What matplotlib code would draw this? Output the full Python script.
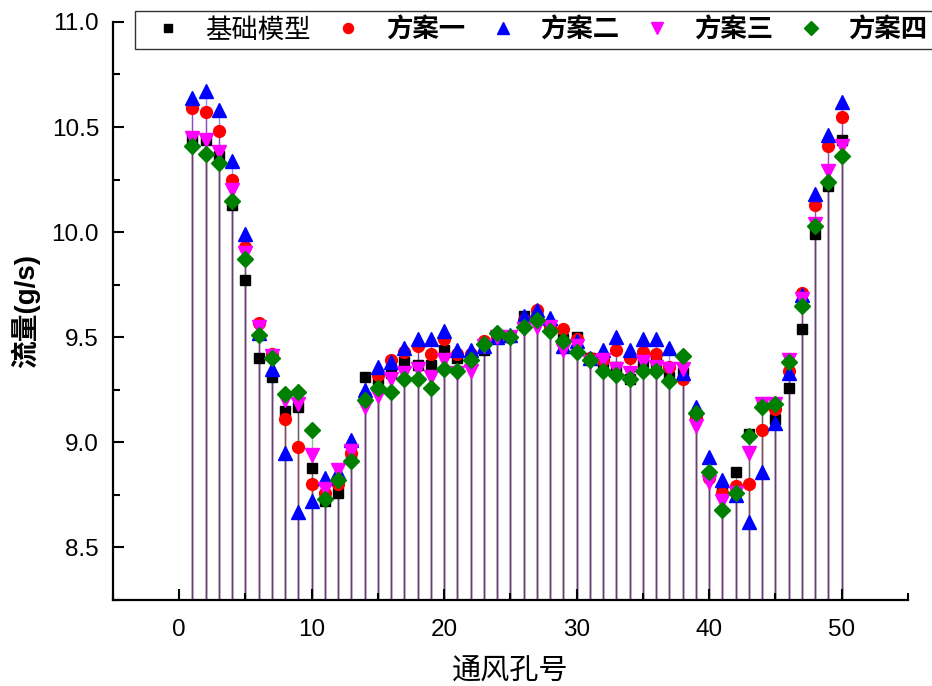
import matplotlib
matplotlib.use("Agg")
import matplotlib.pyplot as plt
import numpy as np
from matplotlib.ticker import MultipleLocator

plt.rcParams['font.family'] = ['Liberation Sans', 'Noto Sans CJK SC']

# vent number 1..50
vent = np.arange(1, 51)

base = [10.45, 10.44, 10.36, 10.13, 9.77, 9.40, 9.31, 9.15, 9.17, 8.88,
        8.72, 8.76, 8.93, 9.31, 9.30, 9.33, 9.38, 9.37, 9.37, 9.44,
        9.40, 9.40, 9.44, 9.50, 9.50, 9.60, 9.60, 9.56, 9.49, 9.50,
        9.40, 9.38, 9.36, 9.30, 9.38, 9.38, 9.31, 9.33, 9.13, 8.85,
        8.76, 8.86, 9.04, 9.18, 9.11, 9.26, 9.54, 9.99, 10.22, 10.44]
plan1 = [10.59, 10.57, 10.48, 10.25, 9.93, 9.57, 9.42, 9.11, 8.98, 8.80,
         8.76, 8.80, 8.95, 9.22, 9.32, 9.39, 9.43, 9.46, 9.42, 9.49,
         9.42, 9.42, 9.48, 9.50, 9.50, 9.58, 9.63, 9.55, 9.54, 9.49,
         9.40, 9.39, 9.44, 9.40, 9.43, 9.42, 9.36, 9.30, 9.12, 8.83,
         8.76, 8.79, 8.80, 9.06, 9.16, 9.34, 9.71, 10.13, 10.41, 10.55]
plan2 = [10.64, 10.67, 10.58, 10.34, 9.99, 9.52, 9.35, 8.95, 8.67, 8.72,
         8.83, 8.86, 9.01, 9.25, 9.36, 9.38, 9.45, 9.49, 9.49, 9.53,
         9.44, 9.44, 9.46, 9.50, 9.51, 9.60, 9.63, 9.59, 9.46, 9.48,
         9.40, 9.44, 9.50, 9.44, 9.49, 9.49, 9.45, 9.33, 9.17, 8.93,
         8.82, 8.75, 8.62, 8.86, 9.09, 9.33, 9.70, 10.18, 10.46, 10.62]
plan3 = [10.45, 10.44, 10.38, 10.20, 9.90, 9.55, 9.41, 9.20, 9.18, 8.94,
         8.78, 8.87, 8.96, 9.17, 9.22, 9.30, 9.33, 9.35, 9.31, 9.39,
         9.33, 9.34, 9.46, 9.50, 9.50, 9.54, 9.55, 9.55, 9.44, 9.46,
         9.38, 9.39, 9.35, 9.33, 9.38, 9.36, 9.35, 9.35, 9.08, 8.81,
         8.72, 8.76, 8.95, 9.18, 9.18, 9.39, 9.68, 10.04, 10.29, 10.41]
plan4 = [10.41, 10.37, 10.33, 10.15, 9.87, 9.51, 9.40, 9.23, 9.24, 9.06,
         8.73, 8.82, 8.91, 9.20, 9.26, 9.24, 9.30, 9.30, 9.26, 9.35,
         9.34, 9.39, 9.47, 9.52, 9.50, 9.55, 9.58, 9.53, 9.48, 9.43,
         9.39, 9.34, 9.32, 9.30, 9.34, 9.34, 9.29, 9.41, 9.14, 8.86,
         8.68, 8.76, 9.03, 9.17, 9.18, 9.38, 9.65, 10.03, 10.24, 10.36]

labels = ['基础模型', '方案一', '方案二', '方案三', '方案四']
colors = ['black', 'red', 'blue', 'magenta', 'green']
markers = ['s', 'o', '^', 'v', 'D']
sizes = [7, 8.5, 10, 10, 8]
series = [base, plan1, plan2, plan3, plan4]

ybottom = 8.25

fig = plt.figure(figsize=(9.32, 6.86), dpi=100)
ax = fig.add_axes([0.1212, 0.1254, 0.8530, 0.8426])

# drop lines first so the markers sit on top
for vals, c in zip(series, colors):
    ax.vlines(vent, ybottom, vals, colors=c, lw=1.0, alpha=0.45, zorder=1)

handles = []
for vals, c, m, ms, lab in zip(series, colors, markers, sizes, labels):
    h, = ax.plot(vent, vals, ls='none', marker=m, ms=ms, color=c,
                 mec=c, label=lab, zorder=3)
    handles.append(h)

ax.set_xlim(-5, 55)
ax.set_ylim(ybottom, 11.0)
ax.xaxis.set_major_locator(MultipleLocator(10))
ax.xaxis.set_minor_locator(MultipleLocator(5))
ax.yaxis.set_major_locator(MultipleLocator(0.5))
ax.yaxis.set_minor_locator(MultipleLocator(0.25))
ax.yaxis.set_major_formatter(matplotlib.ticker.FormatStrFormatter('%.1f'))

for s in ['top', 'right']:
    ax.spines[s].set_visible(False)
for s in ['left', 'bottom']:
    ax.spines[s].set_linewidth(1.6)

ax.tick_params(which='major', direction='in', length=8, width=1.5,
               labelsize=17.5, pad=10)
ax.tick_params(which='minor', direction='in', length=5, width=1.5)
ax.tick_params(axis='x', pad=14)

ax.set_ylabel('流量(g/s)', fontsize=20, fontweight='bold', labelpad=8)
ax.set_xlabel('通风孔号', fontsize=21, labelpad=12)

leg = fig.legend(handles=handles, loc='upper left', ncol=5,
                 bbox_to_anchor=(135 / 932, 1 - 11 / 686), borderaxespad=0,
                 prop={'size': 19}, frameon=True, fancybox=False,
                 edgecolor='black', handlelength=2.0, handletextpad=0.42,
                 columnspacing=0.42, borderpad=0.25, markerscale=0.85)
leg.get_frame().set_linewidth(1.0)
for t in leg.get_texts()[1:]:
    t.set_fontweight('bold')

fig.savefig('out.png', dpi=100)
